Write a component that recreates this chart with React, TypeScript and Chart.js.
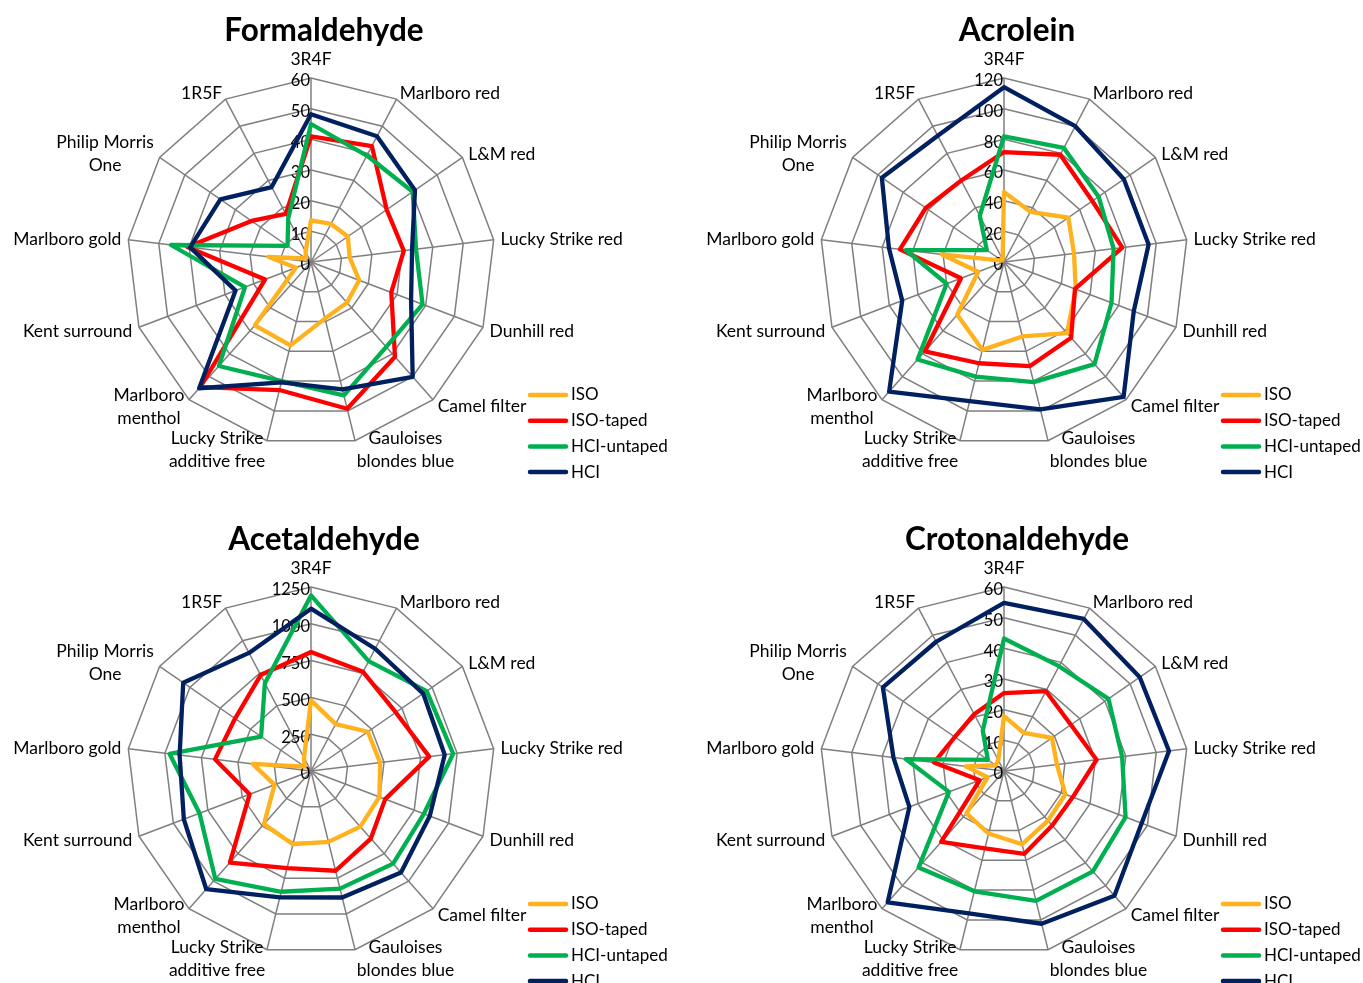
import React, { useEffect, useRef } from 'react';
import { Chart, registerables } from 'chart.js';

Chart.register(...registerables);

// ---------- data ----------
const categories: string[][] = [
  ['3R4F'],
  ['Marlboro red'],
  ['L&M red'],
  ['Lucky Strike red'],
  ['Dunhill red'],
  ['Camel filter'],
  ['Gauloises', 'blondes blue'],
  ['Lucky Strike', 'additive free'],
  ['Marlboro', 'menthol'],
  ['Kent surround'],
  ['Marlboro gold'],
  ['Philip Morris', 'One'],
  ['1R5F'],
];

const seriesNames = ['ISO', 'ISO-taped', 'HCI-untaped', 'HCI'];
const seriesColors = ['#FFB11E', '#FF0000', '#00B050', '#002060'];

const formaldehydeISO = [13.6, 14, 14.6, 12.7, 16.8, 17.7, 19, 28, 27.6, 5.3, 14, 2, 3.8];
const formaldehydeISOTaped = [41, 42.7, 30, 30.5, 28, 41.3, 49.3, 43, 54.5, 16, 40.6, 23.6, 17.7];
const formaldehydeHCIUntaped = [45, 39.2, 40.3, 34.5, 38.9, 37, 44.8, 40, 45.3, 23, 46, 9.3, 16];
const formaldehydeHCI = [48.2, 46.3, 41.2, 33.2, 34.9, 50, 42.8, 40.4, 55, 26.3, 39.7, 35.9, 27.6];
const formaldehydeTicks = [0, 10, 20, 30, 40, 50, 60];

const acroleinISO = [45.7, 37, 51, 46, 50, 62, 50, 59, 46, 18, 41, 1.5, 2];
const acroleinISOTaped = [71.7, 79, 70, 77.7, 49.5, 66, 70, 68, 77.8, 30, 68.4, 62, 60];
const acroleinHCIUntaped = [82, 84, 75, 72, 75, 89, 80.7, 77, 85, 40, 64.6, 13.6, 34];
const acroleinHCI = [114, 100, 95, 95, 90.5, 117.6, 99, 93.5, 113, 71, 75.6, 96.8, 93];
const acroleinTicks = [0, 20, 40, 60, 80, 100, 120];

const acetaldehydeISO = [480, 360, 469, 473, 497, 505, 496, 512, 482, 265, 399, 53, 102];
const acetaldehydeISOTaped = [808, 761, 700, 809, 539, 613, 698, 680, 831, 446, 657, 627, 736];
const acetaldehydeHCIUntaped = [1193, 843, 955, 973, 820, 841, 823, 845, 980, 810, 968, 412, 674];
const acetaldehydeHCI = [1103, 938, 926, 915, 863, 922, 885, 884, 1073, 924, 899, 1055, 906];
const acetaldehydeTicks = [0, 250, 500, 750, 1000, 1250];

const crotonaldehydeISO = [17.9, 14, 19, 17.4, 21.4, 21.6, 24.6, 21, 18.5, 5.7, 12.6, 3.3, 4];
const crotonaldehydeISOTaped = [25.4, 29.4, 26.5, 30.4, 24, 23.7, 27.8, 26, 30.9, 8.5, 23, 19.5, 20.9];
const crotonaldehydeHCIUntaped = [43.2, 38.6, 41.4, 38.8, 42.4, 43.7, 43.6, 40.4, 42, 19.2, 32.3, 6.4, 14.9];
const crotonaldehydeHCI = [54.8, 56, 53.8, 54.2, 48, 54.3, 51.3, 47.8, 57.2, 33, 36.3, 48, 47.6];
const crotonaldehydeTicks = [0, 10, 20, 30, 40, 50, 60];

// ---------- layout ----------
const RADIUS = 184;
const GRID = '#7f7f7f';
const FONT = 'Lato, "Open Sans", sans-serif';

type Panel = {
  title: string;
  ticks: number[];
  series: number[][];
  left: number;
  top: number;
  width: number;
  height: number;
  cx: number; // center relative to canvas
  cy: number;
};

const panels: Panel[] = [
  {
    title: 'Formaldehyde',
    ticks: formaldehydeTicks,
    series: [formaldehydeISO, formaldehydeISOTaped, formaldehydeHCIUntaped, formaldehydeHCI],
    left: 0, top: 0, width: 681, height: 508, cx: 311, cy: 262,
  },
  {
    title: 'Acrolein',
    ticks: acroleinTicks,
    series: [acroleinISO, acroleinISOTaped, acroleinHCIUntaped, acroleinHCI],
    left: 681, top: 0, width: 682, height: 508, cx: 323, cy: 262,
  },
  {
    title: 'Acetaldehyde',
    ticks: acetaldehydeTicks,
    series: [acetaldehydeISO, acetaldehydeISOTaped, acetaldehydeHCIUntaped, acetaldehydeHCI],
    left: 0, top: 508, width: 681, height: 475, cx: 311, cy: 263,
  },
  {
    title: 'Crotonaldehyde',
    ticks: crotonaldehydeTicks,
    series: [crotonaldehydeISO, crotonaldehydeISOTaped, crotonaldehydeHCIUntaped, crotonaldehydeHCI],
    left: 681, top: 508, width: 682, height: 475, cx: 323, cy: 263,
  },
];

// ---------- plugin for Excel-like labels, ticks, title and legend ----------
const decorPlugin = {
  id: 'decor',
  beforeDatasetsDraw(chart: any, _args: any, opts: any) {
    const s = chart.scales.r;
    const ctx = chart.ctx as CanvasRenderingContext2D;
    ctx.save();
    ctx.fillStyle = '#000';
    ctx.font = `16.5px ${FONT}`;
    ctx.textAlign = 'right';
    ctx.textBaseline = 'middle';
    (opts.ticks as number[]).forEach((v) => {
      const d = s.getDistanceFromCenterForValue(v);
      ctx.fillText(String(v), s.xCenter - 1, s.yCenter - d + 3);
    });
    ctx.restore();
  },
  afterDraw(chart: any, _args: any, opts: any) {
    const s = chart.scales.r;
    const ctx = chart.ctx as CanvasRenderingContext2D;
    const cx = s.xCenter;
    const cy = s.yCenter;
    const R = s.drawingArea;
    ctx.save();
    ctx.fillStyle = '#000';

    // title
    ctx.font = `bold 31.5px ${FONT}`;
    ctx.textAlign = 'center';
    ctx.textBaseline = 'middle';
    ctx.fillText(opts.title, cx + 13, cy - 231);

    // point labels
    ctx.font = `17.5px ${FONT}`;
    const labels = chart.data.labels as string[][];
    const lh = 23;
    labels.forEach((lines, i) => {
      const a = s.getIndexAngle(i);
      const sn = Math.sin(a);
      const cs = Math.cos(a);
      const p = s.getPointPosition(i, R);
      const bw = Math.max(...lines.map((l) => ctx.measureText(l).width));
      const bh = lines.length * lh;
      let x: number;
      let y: number;
      if (Math.abs(sn) < 0.01) {
        x = p.x;
        y = p.y - (cs > 0 ? 19 : -19);
      } else {
        y = p.y - cs * 8 + 1;
        x = sn > 0 ? p.x + 7 * sn + bw / 2 : p.x - 7 * Math.abs(sn) - bw / 2;
      }
      ctx.textAlign = 'center';
      lines.forEach((l, j) => {
        ctx.fillText(l, x, y - bh / 2 + lh / 2 + j * lh);
      });
    });

    // legend
    ctx.font = `17px ${FONT}`;
    const x0 = cx + 217;
    const x1 = cx + 257;
    const tx = cx + 260;
    chart.data.datasets.forEach((ds: any, k: number) => {
      const y = cy + 133 + k * 25.7;
      ctx.strokeStyle = ds.borderColor;
      ctx.lineWidth = 4.5;
      ctx.lineCap = 'round';
      ctx.beginPath();
      ctx.moveTo(x0 + 2, y);
      ctx.lineTo(x1 - 2, y);
      ctx.stroke();
      ctx.fillStyle = '#000';
      ctx.textAlign = 'left';
      ctx.textBaseline = 'middle';
      ctx.fillText(ds.label, tx, y);
    });
    ctx.restore();
  },
};

function RadarPanel({ panel }: { panel: Panel }) {
  const ref = useRef<HTMLCanvasElement>(null);
  useEffect(() => {
    let chart: Chart | null = null;
    let cancelled = false;
    const build = () => {
      if (cancelled || !ref.current) return;
      const ticks = panel.ticks;
      const max = ticks[ticks.length - 1];
      const step = ticks[1] - ticks[0];
      chart = new Chart(ref.current, {
        type: 'radar',
        data: {
          labels: categories as any,
          datasets: panel.series.map((vals, k) => ({
            label: seriesNames[k],
            data: vals,
            borderColor: seriesColors[k],
            backgroundColor: 'rgba(0,0,0,0)',
            borderWidth: 4.3,
            pointRadius: 0,
            pointHoverRadius: 0,
            fill: false,
            borderJoinStyle: 'round',
            borderCapStyle: 'round',
            order: 3 - k,
          })) as any,
        },
        options: {
          responsive: false,
          animation: false,
          devicePixelRatio: 1,
          events: [],
          layout: {
            padding: {
              left: panel.cx - RADIUS,
              top: panel.cy - RADIUS,
              right: panel.width - panel.cx - RADIUS,
              bottom: panel.height - panel.cy - RADIUS,
            },
          },
          plugins: {
            legend: { display: false },
            tooltip: { enabled: false },
            title: { display: false },
            decor: { title: panel.title, ticks },
          } as any,
          scales: {
            r: {
              min: 0,
              max,
              ticks: { display: false, stepSize: step },
              pointLabels: { display: false },
              grid: { color: GRID, lineWidth: 1.5 },
              angleLines: { color: GRID, lineWidth: 1.5 },
            },
          },
        },
        plugins: [decorPlugin as any],
      });
    };
    const fonts = (document as any).fonts;
    if (fonts && fonts.load) {
      Promise.all([fonts.load(`16px Lato`), fonts.load(`bold 31px Lato`)]).then(build, build);
    } else {
      build();
    }
    return () => {
      cancelled = true;
      if (chart) chart.destroy();
    };
  }, [panel]);
  return (
    <canvas
      ref={ref}
      width={panel.width}
      height={panel.height}
      style={{ position: 'absolute', left: panel.left, top: panel.top, width: panel.width, height: panel.height }}
    />
  );
}

export default function App() {
  return (
    <div style={{ position: 'absolute', left: 0, top: 0, width: 1363, height: 983, background: '#fff', overflow: 'hidden' }}>
      {panels.map((p) => (
        <RadarPanel key={p.title} panel={p} />
      ))}
    </div>
  );
}
